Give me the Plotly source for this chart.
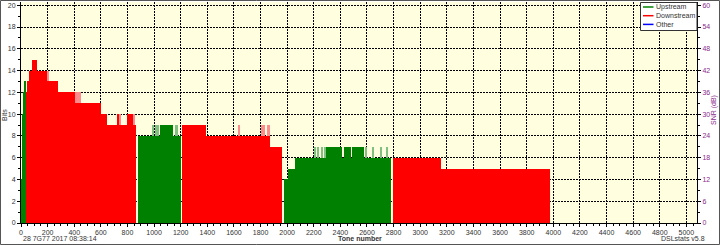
import plotly.graph_objects as go

# ---------------- data (tone segments: start, end, bits) ----------------
us_start = [6, 14, 20, 26, 33, 881, 1042, 1140, 1980, 2010, 2060, 2293, 2415, 2425, 2483, 2490, 2580]
us_end   = [14, 20, 26, 33, 37, 1042, 1140, 1200, 2010, 2060, 2293, 2415, 2425, 2483, 2490, 2580, 2782]
us_bits  = [4, 10, 12, 13, 12, 8, 9, 8, 4, 5, 6, 7, 6, 7, 6, 7, 6]

us_pk_start = [990, 1010, 1155, 2205, 2230, 2255, 2275, 2590, 2640, 2700, 2740]
us_pk_end   = [1000, 1035, 1178, 2215, 2240, 2262, 2293, 2600, 2648, 2710, 2755]
us_pk_bits  = [9, 9, 9, 7, 7, 7, 7, 7, 7, 7, 7]

ds_start = [37, 52, 60, 82, 120, 195, 277, 405, 600, 645, 718, 793, 815, 1207, 1393, 1868, 2798, 3155]
ds_end   = [52, 60, 82, 120, 195, 277, 405, 600, 645, 866, 735, 810, 840, 1393, 1868, 1963, 3155, 3973]
ds_bits  = [12, 13, 14, 15, 14, 13, 12, 11, 10, 9, 10, 10, 10, 9, 8, 7, 6, 5]

ds_pk_start = [195, 405, 740, 845, 1635, 1808, 1825, 1850, 3125]
ds_pk_end   = [210, 450, 750, 855, 1642, 1815, 1835, 1868, 3130]
ds_pk_bits  = [14, 12, 10, 10, 9, 9, 9, 9, 6]

legend_names  = ["Upstream", "Downstream", "Other"]
legend_colors = ["#008000", "#FF0000", "#0000FF"]

x_range = [0, 5080]
bits_range = [0, 20.3]
snr_range = [0, 60.9]

# ---------------- figure ----------------
GREEN = "#008000"
RED = "#FF0000"
LGREEN = "#80C080"
LRED = "#FF8C8C"
FONT = "Liberation Sans Narrow, Liberation Sans, Arial"
TXT = "#333333"
PURPLE = "#8B2A8B"

def seg_bar(starts, ends, bits, color):
    return go.Bar(
        x=starts, y=bits, width=[e - s for s, e in zip(starts, ends)], offset=0,
        marker=dict(color=color, line=dict(width=0)), showlegend=False,
        hoverinfo="skip",
    )

fig = go.Figure()
fig.add_trace(seg_bar(us_pk_start, us_pk_end, us_pk_bits, LGREEN))
fig.add_trace(seg_bar(ds_pk_start, ds_pk_end, ds_pk_bits, LRED))
fig.add_trace(seg_bar(us_start, us_end, us_bits, GREEN))
fig.add_trace(seg_bar(ds_start, ds_end, ds_bits, RED))
# invisible trace to attach the SNR axis
fig.add_trace(go.Scatter(x=[0], y=[0], yaxis="y2", mode="markers",
                         marker=dict(opacity=0), showlegend=False, hoverinfo="skip"))

L, R, T, B = 21, 23, 2, 22
W, H = 720, 245
PW, PH = W - L - R, H - T - B

def px(xp):
    return (xp - L) / PW

def py(yp):
    return (H - B - yp) / PH

tickfont = dict(family=FONT, size=7, color=TXT)

fig.update_layout(
    width=W, height=H,
    margin=dict(l=L, r=R, t=T, b=B, pad=0),
    paper_bgcolor="white", plot_bgcolor="#FFFFE0",
    barmode="overlay", bargap=0,
    showlegend=False,
    xaxis=dict(
        range=x_range, tickmode="linear", tick0=0, dtick=200,
        showgrid=True, gridcolor="black", griddash="2px,1px", gridwidth=1,
        zeroline=False, showline=True, linecolor="black", linewidth=1,
        ticks="outside", ticklen=3, tickcolor="black", tickfont=tickfont,
        minor=dict(dtick=50, tick0=0, ticks="outside", ticklen=2, tickcolor="black", showgrid=False),
    ),
    yaxis=dict(
        range=bits_range, tickmode="linear", tick0=0, dtick=2,
        showgrid=True, gridcolor="black", griddash="2px,1px", gridwidth=1,
        zeroline=False, showline=True, linecolor="black", linewidth=1,
        ticks="outside", ticklen=3, tickcolor="black", tickfont=tickfont,
        minor=dict(dtick=1, tick0=0, ticks="outside", ticklen=2, tickcolor="black", showgrid=False),
    ),
    yaxis2=dict(
        range=snr_range, overlaying="y", side="right", tickmode="linear", tick0=0, dtick=6,
        showgrid=False, zeroline=False, showline=True, linecolor="black", linewidth=1,
        ticks="outside", ticklen=3, tickcolor="black",
        tickfont=dict(family=FONT, size=7, color=PURPLE),
        minor=dict(dtick=3, tick0=0, ticks="outside", ticklen=2, tickcolor="black", showgrid=False),
    ),
)

shapes = []
annotations = []

# outer border of the picture
shapes.append(dict(type="rect", xref="paper", yref="paper",
                   x0=px(0.5), x1=px(719.5), y0=py(0.5), y1=py(244.5),
                   line=dict(color="#555555", width=1), fillcolor="rgba(0,0,0,0)", layer="above"))

# legend box
shapes.append(dict(type="rect", xref="paper", yref="paper",
                   x0=px(640.5), x1=px(697), y0=py(2.5), y1=py(30.5),
                   line=dict(color="#333333", width=1), fillcolor="white", layer="above"))
for i, (name, col) in enumerate(zip(legend_names, legend_colors)):
    yy = 7 + i * 8.7
    shapes.append(dict(type="line", xref="paper", yref="paper",
                       x0=px(643), x1=px(653.5), y0=py(yy), y1=py(yy),
                       line=dict(color=col, width=1.5), layer="above"))
    annotations.append(dict(text=name, xref="paper", yref="paper", x=px(654), y=py(yy),
                            xanchor="left", yanchor="middle", showarrow=False,
                            font=dict(family=FONT, size=7, color=TXT)))

annotations += [
    dict(text="Bits", xref="paper", yref="paper", x=px(5), y=py(115), textangle=-90,
         xanchor="center", yanchor="middle", showarrow=False, font=dict(family=FONT, size=7, color=TXT)),
    dict(text="SNR (dB)", xref="paper", yref="paper", x=px(714), y=py(110), textangle=-90,
         xanchor="center", yanchor="middle", showarrow=False, font=dict(family=FONT, size=7, color=PURPLE)),
    dict(text="28 7G77 2017 08:38:14", xref="paper", yref="paper", x=px(21), y=py(238),
         xanchor="left", yanchor="middle", showarrow=False, font=dict(family=FONT, size=7, color=TXT)),
    dict(text="<b>Tone number</b>", xref="paper", yref="paper", x=px(360), y=py(238.5),
         xanchor="center", yanchor="middle", showarrow=False, font=dict(family=FONT, size=7, color=TXT)),
    dict(text="DSLstats v5.8", xref="paper", yref="paper", x=px(707), y=py(238),
         xanchor="right", yanchor="middle", showarrow=False, font=dict(family=FONT, size=7, color=TXT)),
]

fig.update_layout(shapes=shapes, annotations=annotations)
fig.write_html("out.html")
